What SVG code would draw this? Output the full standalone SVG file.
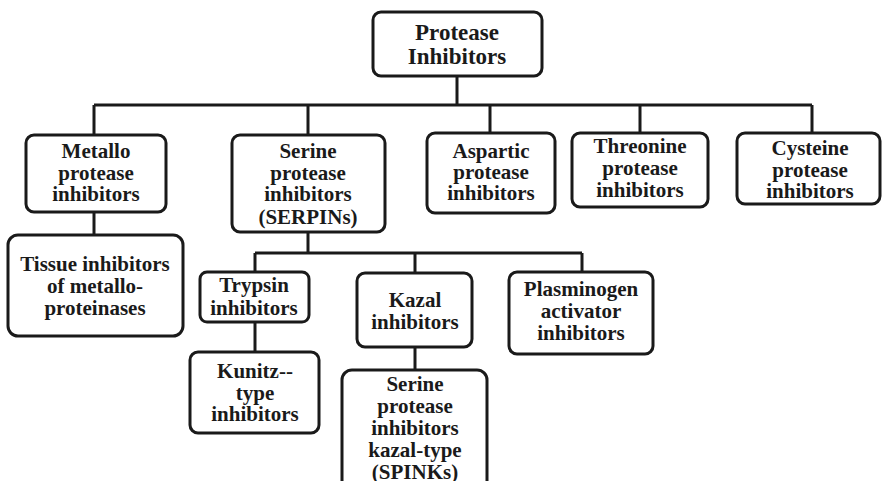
<svg xmlns="http://www.w3.org/2000/svg" width="883" height="481" viewBox="0 0 883 481">
<style>
.box{fill:#fff;stroke:#1a1a1a;stroke-width:3}
.ln{fill:none;stroke:#1a1a1a;stroke-width:3}
text{font-family:"Liberation Serif","Times New Roman",serif;font-weight:bold;font-size:21px;fill:#1a1a1a;text-anchor:middle}
.big{font-size:23px}
</style>
<rect width="883" height="481" fill="#fff"/>
<g id="connectors">
<path class="ln" d="M457 76V105M94 105H812M94 105V135M308 105V135M490 105V133M640 105V133M812 105V133"/>
<path class="ln" d="M94 212V235"/>
<path class="ln" d="M308 232V253M255 253H582M255 253V272M415 253V273M582 253V272"/>
<path class="ln" d="M255 322V352"/>
<path class="ln" d="M415 347V370"/>
</g>
<g id="root"><rect class="box" x="373" y="12" width="169" height="64" rx="8"/>
<text class="big" x="457" y="40">Protease</text><text class="big" x="457" y="64">Inhibitors</text></g>
<g id="metallo"><rect class="box" x="26" y="135" width="140" height="77" rx="8"/>
<text x="96" y="158">Metallo</text><text x="96" y="180">protease</text><text x="96" y="201">inhibitors</text></g>
<g id="serine"><rect class="box" x="232" y="135" width="153" height="97" rx="8"/>
<text x="308" y="158">Serine</text><text x="308" y="180">protease</text><text x="308" y="201">inhibitors</text><text x="308" y="224">(SERPINs)</text></g>
<g id="aspartic"><rect class="box" x="427" y="133" width="128" height="80" rx="8"/>
<text x="491" y="158">Aspartic</text><text x="491" y="179">protease</text><text x="491" y="200">inhibitors</text></g>
<g id="threonine"><rect class="box" x="572" y="133" width="136" height="74" rx="8"/>
<text x="640" y="153">Threonine</text><text x="640" y="175">protease</text><text x="640" y="197">inhibitors</text></g>
<g id="cysteine"><rect class="box" x="737" y="133" width="143" height="71" rx="8"/>
<text x="810" y="155">Cysteine</text><text x="810" y="177">protease</text><text x="810" y="198">inhibitors</text></g>
<g id="tissue"><rect class="box" x="8" y="235" width="175" height="101" rx="10"/>
<text x="95" y="271">Tissue inhibitors</text><text x="95" y="293">of metallo-</text><text x="95" y="315">proteinases</text></g>
<g id="trypsin"><rect class="box" x="200" y="272" width="109" height="50" rx="7"/>
<text x="254" y="292">Trypsin</text><text x="254" y="315">inhibitors</text></g>
<g id="kazal"><rect class="box" x="357" y="273" width="115" height="74" rx="8"/>
<text x="415" y="307">Kazal</text><text x="415" y="329">inhibitors</text></g>
<g id="plasminogen"><rect class="box" x="509" y="272" width="144" height="82" rx="8"/>
<text x="581" y="296">Plasminogen</text><text x="581" y="318">activator</text><text x="581" y="340">inhibitors</text></g>
<g id="kunitz"><rect class="box" x="190" y="352" width="129" height="81" rx="8"/>
<text x="255" y="378">Kunitz--</text><text x="255" y="400">type</text><text x="255" y="421">inhibitors</text></g>
<g id="spink"><rect class="box" x="342" y="370" width="145" height="125" rx="10"/>
<text x="415" y="391">Serine</text><text x="415" y="413">protease</text><text x="415" y="435">inhibitors</text><text x="415" y="457">kazal-type</text><text x="415" y="479">(SPINKs)</text></g>
</svg>
